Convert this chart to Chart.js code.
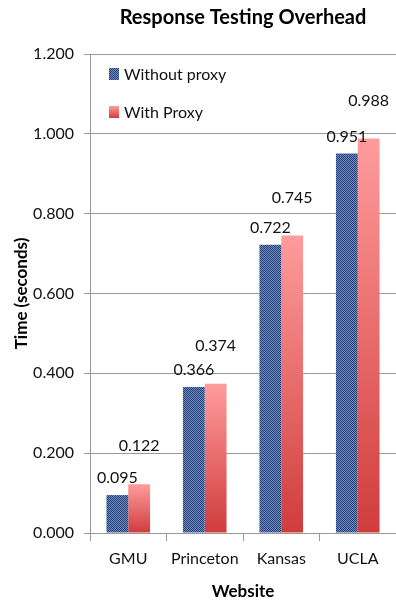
<!DOCTYPE html>
<html>
<head>
<meta charset="utf-8">
<script src="https://cdn.jsdelivr.net/npm/chart.js@4/dist/chart.umd.min.js"></script>
<style>
  html, body { margin: 0; padding: 0; background: #fff; }
  #wrap { width: 396px; height: 602px; }
</style>
</head>
<body>
<div id="wrap"><canvas id="grafico" width="396" height="602"></canvas></div>
<script>
// dados do gráfico
var sites = ['GMU', 'Princeton', 'Kansas', 'UCLA'];
var semProxy = [0.095, 0.366, 0.722, 0.951];
var comProxy = [0.122, 0.374, 0.745, 0.988];
var ticksY = [0, 0.2, 0.4, 0.6, 0.8, 1.0, 1.2];

var fonte = 'Lato, "Open Sans", sans-serif';

// padrão xadrez fino azul (imita a hachura do Excel)
function hachura() {
    var c = document.createElement('canvas');
    c.width = 2; c.height = 2;
    var g = c.getContext('2d');
    g.fillStyle = '#6a8cca';
    g.fillRect(0, 0, 2, 2);
    g.fillStyle = '#2c406e';
    g.fillRect(0, 0, 1, 1);
    g.fillRect(1, 1, 1, 1);
    return g.createPattern(c, 'repeat');
}

var ctx = document.getElementById('grafico').getContext('2d');
var padraoAzul = hachura();

// gradiente vermelho por barra
function gradienteVermelho(context) {
    var chart = context.chart;
    if (!chart.chartArea || context.parsed == null) return '#e86a6a';
    var y = chart.scales.y;
    var topo = y.getPixelForValue(context.parsed.y);
    var base = y.getPixelForValue(0);
    var gr = chart.ctx.createLinearGradient(0, topo, 0, base);
    gr.addColorStop(0, '#ff9c9c');
    gr.addColorStop(1, '#d03c3c');
    return gr;
}

// rótulos de valor acima das barras
var deslocRotulo = [17, 38];
var rotulos = {
    id: 'rotulos',
    afterDatasetsDraw: function(chart) {
        var c = chart.ctx;
        c.save();
        c.font = '16px ' + fonte;
        c.fillStyle = '#111';
        c.textAlign = 'center';
        c.textBaseline = 'bottom';
        chart.data.datasets.forEach(function(ds, i) {
            chart.getDatasetMeta(i).data.forEach(function(el, j) {
                c.fillText(ds.data[j].toFixed(3), el.x, el.y - deslocRotulo[i] + 8);
            });
        });
        c.restore();
    }
};

// legenda dentro da área do gráfico
var legenda = {
    id: 'legenda',
    afterDraw: function(chart) {
        var c = chart.ctx;
        var a = chart.chartArea;
        c.save();
        c.font = '16px ' + fonte;
        c.textBaseline = 'middle';
        chart.data.datasets.forEach(function(ds, i) {
            var y = a.top + 20 + i * 38;
            var x = a.left + 19;
            if (i === 0) {
                c.fillStyle = padraoAzul;
            } else {
                var gr = c.createLinearGradient(0, y - 6, 0, y + 6);
                gr.addColorStop(0, '#ff9c9c');
                gr.addColorStop(1, '#d03c3c');
                c.fillStyle = gr;
            }
            c.fillRect(x, y - 6, 10, 12);
            c.fillStyle = '#111';
            c.fillText(ds.label, x + 15, y + 1);
        });
        c.restore();
    }
};

var grafico = new Chart(ctx, {
    type: 'bar',
    data: {
        labels: sites,
        datasets: [{
            label: 'Without proxy',
            data: semProxy,
            backgroundColor: padraoAzul,
            barPercentage: 1,
            categoryPercentage: 0.57
        }, {
            label: 'With Proxy',
            data: comProxy,
            backgroundColor: gradienteVermelho,
            barPercentage: 1,
            categoryPercentage: 0.57
        }]
    },
    options: {
        responsive: false,
        animation: false,
        layout: { padding: { top: 4, left: 0, right: 0, bottom: 0 } },
        plugins: {
            legend: { display: false },
            tooltip: { enabled: false },
            title: {
                display: true,
                text: 'Response Testing Overhead',
                fullSize: false,
                color: '#000',
                font: { family: fonte, size: 20, weight: 'bold' },
                padding: { top: 2, bottom: 24 }
            }
        },
        scales: {
            x: {
                grid: {
                    drawOnChartArea: false,
                    drawTicks: true,
                    tickLength: 8,
                    color: '#999'
                },
                border: { color: '#999' },
                ticks: {
                    color: '#111',
                    padding: 8,
                    font: { family: fonte, size: 16 }
                },
                title: {
                    display: true,
                    text: 'Website',
                    color: '#000',
                    font: { family: fonte, size: 17, weight: 'bold' },
                    padding: { top: 5, bottom: 0 }
                },
                afterFit: function(s) { s.height = 69; }
            },
            y: {
                min: 0,
                max: 1.2,
                afterBuildTicks: function(s) {
                    s.ticks = ticksY.map(function(v) { return { value: v }; });
                },
                grid: {
                    color: '#999',
                    tickLength: 6
                },
                border: { color: '#999' },
                ticks: {
                    color: '#111',
                    padding: 10,
                    font: { family: fonte, size: 16 },
                    callback: function(v) { return Number(v).toFixed(3); }
                },
                title: {
                    display: true,
                    text: 'Time (seconds)',
                    color: '#000',
                    font: { family: fonte, size: 17, weight: 'bold' },
                    padding: { top: 11, bottom: 0 }
                },
                afterFit: function(s) { s.width = 90; }
            }
        }
    },
    plugins: [rotulos, legenda]
});
</script>
</body>
</html>
